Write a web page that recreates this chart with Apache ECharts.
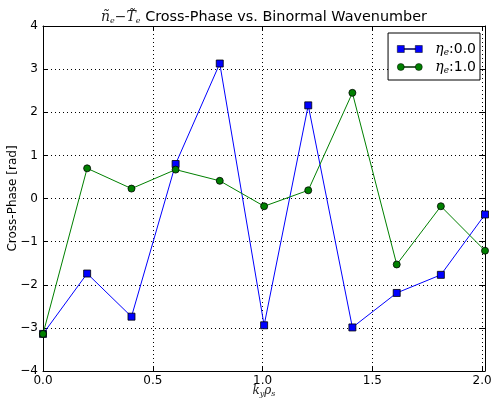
<!DOCTYPE html>
<html>
<head>
<meta charset="utf-8">
<script src="https://cdn.jsdelivr.net/npm/echarts@6/dist/echarts.min.js"></script>
<style>
  html, body { margin: 0; padding: 0; background: #fff; }
  #chart { width: 492px; height: 400px; }
</style>
</head>
<body>
<div id="chart"></div>
<script>
// Binormal wavenumber k_y rho_s
const kyRhoS = [0, 0.201, 0.403, 0.604, 0.805, 1.007, 1.208, 1.409, 1.611, 1.812, 2.013];
// Cross-phase [rad] for eta_e = 0.0
const phaseEta00 = [-3.14, -1.74, -2.74, 0.80, 3.13, -2.94, 2.16, -2.99, -2.19, -1.77, -0.37];
// Cross-phase [rad] for eta_e = 1.0
const phaseEta10 = [-3.14, 0.70, 0.23, 0.67, 0.41, -0.18, 0.19, 2.45, -1.53, -0.18, -1.21];
const xTicks = [0.0, 0.5, 1.0, 1.5, 2.0];
const yTicks = [-4, -3, -2, -1, 0, 1, 2, 3, 4];

const pairs = (xs, ys) => xs.map((x, i) => [x, ys[i]]);
const fmtY = v => (v < 0 ? '\u2212' + Math.abs(v) : String(v));
const fmtX = v => {
  const hit = xTicks.find(t => Math.abs(t - v) < 1e-6);
  return hit === undefined ? '' : hit.toFixed(1);
};

const chart = echarts.init(document.getElementById('chart'), null, { renderer: 'canvas' });

const gridLine = { show: true, lineStyle: { color: '#000', type: [1, 3], width: 1 } };
const tickIn = { show: true, inside: true, length: 5, lineStyle: { color: '#000' } };
const spine = { show: true, onZero: false, lineStyle: { color: '#000', width: 1 } };
const font = 'DejaVu Sans';

// legend glyphs: two markers joined by a short line
const squareIcon = 'path://M0,0h7v7h-7z M18,0h7v7h-7z M7,3h11v1h-11z';
const circleIcon = 'path://M3.5,0A3.5,3.5 0 1,1 3.5,7A3.5,3.5 0 1,1 3.5,0z M21.5,0A3.5,3.5 0 1,1 21.5,7A3.5,3.5 0 1,1 21.5,0z M7,3h11v1h-11z';

const legendRich = {
  eta: { fontFamily: 'DejaVu Serif', fontStyle: 'italic', fontSize: 14, lineHeight: 16, color: '#000', padding: [0, 0, 0, 8] },
  sub: { fontFamily: 'DejaVu Serif', fontStyle: 'italic', fontSize: 9, lineHeight: 9, color: '#000', padding: [7, 0, 0, 0] },
  v: { fontFamily: font, fontSize: 14, lineHeight: 16, color: '#000' }
};

chart.setOption({
  animation: false,
  backgroundColor: '#fff',
  title: {
    text: '{m|ñ}{s|e}{m|\u2212T\u0303}{s|e}{t| Cross-Phase vs. Binormal Wavenumber}',
    left: 259,
    textAlign: 'center',
    top: 5,
    textStyle: {
      fontWeight: 'normal',
      rich: {
        m: { fontFamily: 'DejaVu Serif', fontStyle: 'italic', fontWeight: 'normal', fontSize: 14, color: '#222' },
        s: { fontFamily: 'DejaVu Serif', fontStyle: 'italic', fontWeight: 'normal', fontSize: 8, color: '#222', padding: [7, 0, 0, 0] },
        t: { fontFamily: font, fontWeight: 'normal', fontSize: 14.4, color: '#000' }
      }
    }
  },
  grid: { left: 43, right: 7, top: 26, bottom: 29, containLabel: false, outerBoundsMode: 'none' },
  legend: {
    orient: 'vertical',
    right: 12,
    top: 33,
    padding: [8, 4, 5, 9],
    itemGap: 2,
    itemWidth: 25,
    itemHeight: 7,
    borderColor: '#000',
    borderWidth: 1,
    backgroundColor: '#fff',
    textStyle: { rich: legendRich },
    formatter: name => name === 'e0' ? '{eta|η}{sub|e}{v|:0.0}' : '{eta|η}{sub|e}{v|:1.0}',
    data: [
      { name: 'e0', icon: squareIcon, itemStyle: { color: '#0000ff', borderColor: '#000', borderWidth: 0.5 } },
      { name: 'e1', icon: circleIcon, itemStyle: { color: '#008000', borderColor: '#000', borderWidth: 0.5 } }
    ]
  },
  xAxis: [
    {
      type: 'value', min: 0, max: 2.013, interval: 0.5, position: 'bottom',
      axisLine: spine, axisTick: tickIn, splitLine: gridLine,
      axisLabel: { formatter: fmtX, color: '#000', fontFamily: font, fontSize: 12, margin: 4, showMaxLabel: true },
      name: '{k|k}{s|y}{k|ρ}{s|s}',
      nameLocation: 'middle', nameGap: 13, nameMoveOverlap: false,
      nameTextStyle: {
        rich: {
          k: { fontFamily: 'DejaVu Serif', fontStyle: 'italic', fontSize: 12, color: '#222' },
          s: { fontFamily: 'DejaVu Serif', fontStyle: 'italic', fontSize: 8, color: '#222', padding: [6, 0, 0, 0] }
        }
      }
    },
    {
      type: 'value', min: 0, max: 2.013, interval: 0.5, position: 'top',
      axisLine: spine, axisTick: tickIn, splitLine: { show: false }, axisLabel: { show: false }
    }
  ],
  yAxis: [
    {
      type: 'value', min: -4, max: 4, interval: 1, position: 'left',
      axisLine: spine, axisTick: tickIn, splitLine: gridLine,
      axisLabel: { formatter: fmtY, color: '#000', fontFamily: font, fontSize: 12, margin: 5 },
      name: 'Cross-Phase [rad]', nameLocation: 'middle', nameGap: 24, nameMoveOverlap: false,
      nameTextStyle: { color: '#000', fontFamily: font, fontSize: 12 }
    },
    {
      type: 'value', min: -4, max: 4, interval: 1, position: 'right',
      axisLine: spine, axisTick: tickIn, splitLine: { show: false }, axisLabel: { show: false }
    }
  ],
  series: [
    {
      name: 'e0', type: 'line', data: pairs(kyRhoS, phaseEta00),
      symbol: 'rect', symbolSize: 7,
      lineStyle: { color: '#0000ff', width: 1 },
      itemStyle: { color: '#0000ff', borderColor: '#000', borderWidth: 0.8 },
      z: 3
    },
    {
      name: 'e1', type: 'line', data: pairs(kyRhoS, phaseEta10),
      symbol: 'circle', symbolSize: 7,
      lineStyle: { color: '#008000', width: 1 },
      itemStyle: { color: '#008000', borderColor: '#000', borderWidth: 0.8 },
      z: 4
    }
  ]
});
</script>
</body>
</html>
